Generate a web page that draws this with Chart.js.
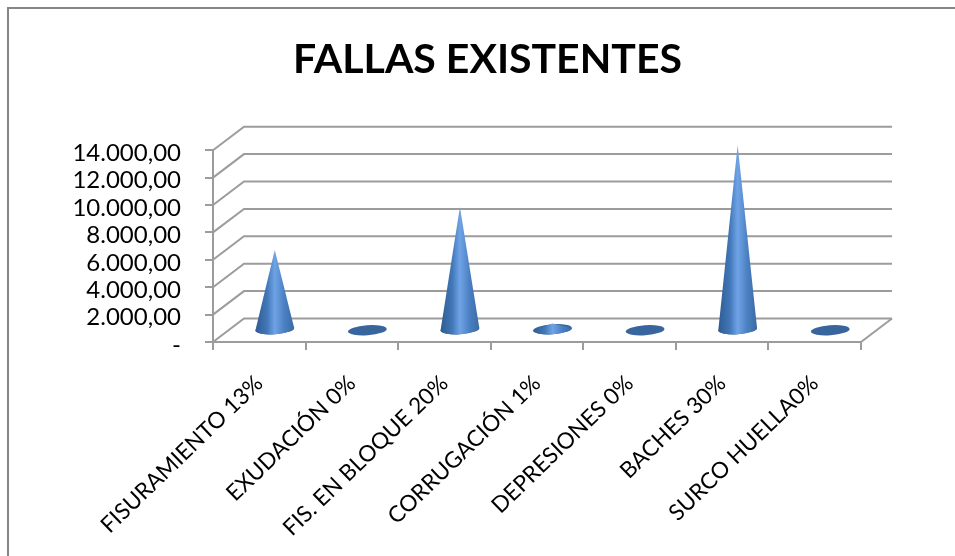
<!DOCTYPE html>
<html>
<head>
<meta charset="utf-8">
<title>Fallas existentes</title>
<script src="https://cdn.jsdelivr.net/npm/chart.js@4/dist/chart.umd.min.js"></script>
<style>
    body { margin: 0; background: #fff; }
    #frame { position: absolute; left: 7px; top: 7px; width: 948px; height: 549px; border-left: 2px solid #868686; border-top: 2px solid #868686; }
    canvas { position: absolute; left: 0; top: 0; }
</style>
</head>
<body>
<div id="frame"></div>
<canvas id="fallasChart" width="955" height="556"></canvas>
<script>
// Chart data
const categories = ['FISURAMIENTO 13%', 'EXUDACIÓN 0%', 'FIS. EN BLOQUE 20%', 'CORRUGACIÓN 1%', 'DEPRESIONES 0%', 'BACHES 30%', 'SURCO HUELLA0%'];
const fallas = [5850, 0, 9000, 500, 0, 13500, 0];
const yTickLabels = ['-', '2.000,00', '4.000,00', '6.000,00', '8.000,00', '10.000,00', '12.000,00', '14.000,00'];

// Depth of the fake 3D box
const depthX = 31;
const depthY = 23.5;
const wallColor = '#9c9c9c';

// The title sits to the right of the middle of the canvas
const titlePlugin = {
    id: 'titleShift',
    afterLayout(chart) {
        chart.titleBlock.left += 57;
        chart.titleBlock.right += 57;
    }
};

// Back wall, left wall and floor, following the y axis ticks
const wallsPlugin = {
    id: 'walls',
    beforeDatasetsDraw(chart) {
        const { ctx, chartArea, scales } = chart;
        ctx.save();
        ctx.strokeStyle = wallColor;
        ctx.lineWidth = 2;
        scales.y.ticks.forEach(tick => {
            const y = scales.y.getPixelForValue(tick.value);
            ctx.beginPath();
            ctx.moveTo(chartArea.left, y);
            ctx.lineTo(chartArea.left + depthX, y - depthY);
            ctx.lineTo(chartArea.right + depthX, y - depthY);
            ctx.stroke();
        });
        ctx.beginPath();
        ctx.moveTo(chartArea.right, chartArea.bottom);
        ctx.lineTo(chartArea.right + depthX, chartArea.bottom - depthY);
        ctx.stroke();
        ctx.restore();
    }
};

// Bars are drawn as cones standing in the middle of the floor
const conePlugin = {
    id: 'cones',
    beforeDatasetDraw(chart, args) {
        const { ctx } = chart;
        args.meta.data.forEach((bar, i) => {
            const rx = bar.width / 2;
            const ry = 5;
            const tilt = -0.07;
            const cx = bar.x + depthX / 2;
            const cy = bar.base - depthY / 2;
            const apex = bar.y - depthY / 2;

            ctx.save();
            ctx.fillStyle = '#38659c';
            ctx.beginPath();
            ctx.ellipse(cx, cy, rx, ry, tilt, 0, Math.PI * 2);
            ctx.fill();

            if (fallas[i] > 0) {
                const gradient = ctx.createLinearGradient(cx - rx, 0, cx + rx, 0);
                gradient.addColorStop(0, '#2f5c93');
                gradient.addColorStop(0.3, '#4177b8');
                gradient.addColorStop(0.5, '#6fa3e6');
                gradient.addColorStop(0.75, '#4a80c2');
                gradient.addColorStop(1, '#3a6aa3');
                ctx.fillStyle = gradient;
                ctx.beginPath();
                ctx.moveTo(cx, apex);
                ctx.ellipse(cx, cy, rx, ry, tilt, Math.PI, 0, true);
                ctx.closePath();
                ctx.fill();
            }
            ctx.restore();
        });
        return false;
    }
};

new Chart(document.querySelector('#fallasChart'), {
    type: 'bar',
    data: {
        labels: categories,
        datasets: [{
            label: 'Fallas existentes',
            data: fallas,
            backgroundColor: '#4177b8',
            barPercentage: 1,
            categoryPercentage: 0.42
        }]
    },
    plugins: [titlePlugin, wallsPlugin, conePlugin],
    options: {
        responsive: false,
        animation: false,
        layout: { padding: { left: 0, right: 94, top: 0, bottom: 0 } },
        plugins: {
            legend: { display: false },
            tooltip: { enabled: false },
            title: {
                display: true,
                text: 'FALLAS EXISTENTES',
                color: '#000',
                font: { family: 'Lato', size: 41, weight: 'bold' },
                padding: { top: 35, bottom: 66 }
            }
        },
        scales: {
            x: {
                afterFit(scale) {
                    scale.height = 214;
                    scale.paddingLeft = 0;
                    scale.paddingRight = 0;
                },
                grid: { drawOnChartArea: false, color: wallColor, lineWidth: 2, tickLength: 8 },
                border: { color: wallColor, width: 2 },
                ticks: {
                    color: '#000',
                    font: { family: 'Lato', size: 22.5 },
                    minRotation: 44,
                    maxRotation: 44,
                    autoSkip: false,
                    padding: 20
                }
            },
            y: {
                min: 0,
                max: 14000,
                afterFit(scale) {
                    scale.width = 213;
                },
                grid: { drawOnChartArea: false, color: wallColor, lineWidth: 2, tickLength: 8 },
                border: { color: wallColor, width: 2 },
                ticks: {
                    stepSize: 2000,
                    autoSkip: false,
                    color: '#000',
                    font: { family: 'Lato', size: 24 },
                    padding: 24,
                    labelOffset: 3,
                    callback: value => yTickLabels[value / 2000]
                }
            }
        }
    }
});
</script>
</body>
</html>
